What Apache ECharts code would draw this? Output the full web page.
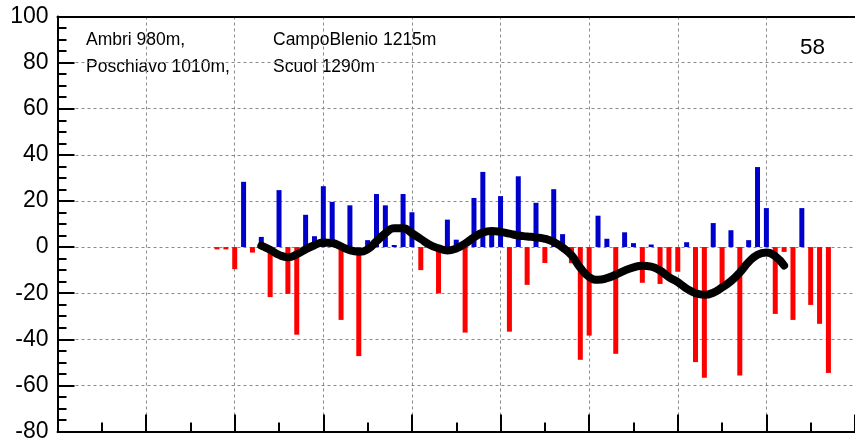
<!DOCTYPE html>
<html>
<head>
<meta charset="utf-8">
<script src="https://cdn.jsdelivr.net/npm/echarts@6/dist/echarts.min.js"></script>
<style>
  html, body { margin: 0; padding: 0; background: #fff; }
  #chart { width: 855px; height: 443px; }
</style>
</head>
<body>
<div id="chart"></div>
<script>
// x position (year index along the axis) of each bar, and its value
const barYears = [18, 19, 20, 21, 22, 23, 24, 25, 26, 27, 28, 29, 30, 31, 32, 33, 34, 35, 36, 37,
  38, 39, 40, 41, 43, 44, 45, 46, 47, 48, 49, 50, 51, 52, 53, 54, 55, 56, 57, 58,
  59, 60, 61, 62, 63, 64, 65, 66, 67, 68, 69, 70, 71, 72, 73, 74, 75, 76, 77, 78,
  79, 80, 81, 82, 83, 84, 85, 86, 87];
const barValues = [-1, -1, -9.6, 28.3, -2.4, 4.4, -21.7, 24.7, -20.3, -38, 14, 4.7, 26.4, 19.6, -31.6, 18.1, -47.3, 3, 23, 18.1,
  0.9, 23, 15.1, -10, -20.1, 11.9, 3.2, -37.1, 21.3, 32.6, 6, 22.1, -36.7, 30.7, -16.4, 19.2, -6.9, 25.1, 5.6, -7,
  -48.9, -38.4, 13.6, 3.6, -46.3, 6.4, 1.7, -15.5, 1.1, -16, -14, -10.7, 2.1, -49.9, -56.7, 10.4, -17, 7.3, -55.7, 3,
  34.7, 16.9, -29, -2.1, -31.6, 16.9, -25.1, -33.3, -54.6];

// smoothed curve, one value per year
const smoothYears = [23, 24, 25, 26, 27, 28, 29, 30, 31, 32, 33, 34, 35, 36, 37, 38, 39, 40, 41, 42,
  43, 44, 45, 46, 47, 48, 49, 50, 51, 52, 53, 54, 55, 56, 57, 58, 59, 60, 61, 62,
  63, 64, 65, 66, 67, 68, 69, 70, 71, 72, 73, 74, 75, 76, 77, 78, 79, 80, 81, 82];
const smoothValues = [0.6, -1.2, -3.4, -4.4, -3.2, -1.0, 0.8, 2.0, 1.8, 0.3, -1.4, -2.0, -1.0, 2.5, 6.0, 8.2, 8.2, 6.0, 3.5, 1.0,
  -0.5, -1.5, -0.6, 1.5, 4.2, 6.3, 7.0, 6.6, 5.8, 5.0, 4.6, 4.2, 3.6, 2.2, -0.2, -3.5, -9.0, -13.0, -14.2, -13.5,
  -12.0, -10.2, -8.8, -8.1, -8.5, -10.2, -13.0, -15.2, -18.0, -20.0, -20.7, -19.8, -17.5, -14.8, -11.0, -6.5, -3.3, -2.4, -4.0, -8.0];

const yMin = -80, yMax = 100, yStep = 20;
const xMin = 0, xMax = 90, xStep = 10;

const stationsCol1 = ['Ambri 980m,', 'Poschiavo 1010m,'];
const stationsCol2 = ['CampoBlenio 1215m', 'Scuol 1290m'];
const stationCount = '58';

const FONT = '"Liberation Sans", Arial, sans-serif';
const chart = echarts.init(document.getElementById('chart'));

const dash = { color: '#8a8a8a', width: 1, type: [3, 3] };
const tickStyle = { color: '#000', width: 2 };

function stationText(lines, x) {
  return lines.map((t, i) => ({
    type: 'text', left: x, top: 31 + i * 27,
    style: { text: t, font: '17.5px ' + FONT, fill: '#000' }
  }));
}

chart.setOption({
  animation: false,
  grid: { left: 57.5, top: 16.5, width: 802.7, height: 421.5 },
  xAxis: [{
    type: 'value', min: xMin, max: xMax, interval: xStep,
    axisLine: { onZero: false, lineStyle: { color: '#000', width: 2 } },
    axisTick: { inside: true, length: 17, lineStyle: tickStyle },
    minorTick: { show: true, splitNumber: 2, length: 9, lineStyle: tickStyle },
    axisLabel: { show: false },
    splitLine: { show: true, lineStyle: dash }
  }, {
    type: 'value', position: 'top', min: xMin, max: xMax,
    axisLine: { show: true, onZero: false, lineStyle: { color: '#000', width: 2 } },
    axisTick: { show: false }, axisLabel: { show: false }, splitLine: { show: false }
  }],
  yAxis: {
    type: 'value', min: yMin, max: yMax, interval: yStep,
    axisLine: { show: true, onZero: false, lineStyle: { color: '#000', width: 2 } },
    axisTick: { inside: true, length: 17, lineStyle: tickStyle },
    minorTick: { show: true, splitNumber: 4, length: 9, lineStyle: tickStyle },
    axisLabel: { fontSize: 23, fontFamily: FONT, color: '#000', margin: 9 },
    splitLine: { show: true, lineStyle: dash }
  },
  series: [{
    type: 'bar',
    barWidth: 5,
    data: barYears.map((x, i) => [x, barValues[i]]),
    itemStyle: { color: (p) => p.value[1] >= 0 ? '#0000cc' : '#ff0000' }
  }, {
    type: 'line',
    smooth: 0.5,
    symbol: 'none',
    data: smoothYears.map((x, i) => [x, smoothValues[i]]),
    lineStyle: { color: '#000', width: 8, cap: 'round', join: 'round' },
    z: 5
  }],
  graphic: [
    ...stationText(stationsCol1, 86),
    ...stationText(stationsCol2, 273),
    { type: 'text', left: 800, top: 36, style: { text: stationCount, font: '22.5px ' + FONT, fill: '#000' } }
  ]
});
</script>
</body>
</html>
